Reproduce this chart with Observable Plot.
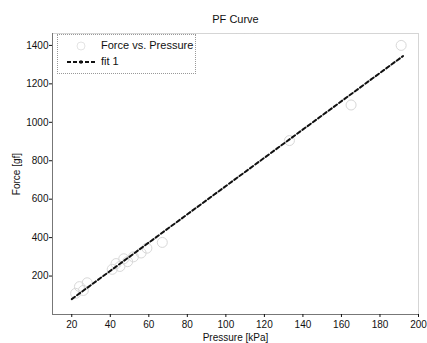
<!DOCTYPE html>
<html>
<head>
<meta charset="utf-8">
<script src="https://cdn.jsdelivr.net/npm/d3@7"></script>
<script src="https://cdn.jsdelivr.net/npm/@observablehq/plot@0.6"></script>
<style>
  html, body { margin: 0; padding: 0; background: #fff; }
  #wrap { position: relative; width: 427px; height: 343px; font-family: "Liberation Sans", Arial, sans-serif; }
  #legend { position: absolute; left: 57px; top: 34px; width: 137px; height: 38px; border: 1px dotted #999; background: #fff; font-size: 11px; color: #111; }
  #legend .row { position: absolute; left: 8px; height: 14px; display: flex; align-items: center; }
  #legend .lbl { position: absolute; left: 43px; }
</style>
</head>
<body>
<div id="wrap"></div>
<script>
// Measured points (Force vs. Pressure)
const pressure = [22, 24, 26, 28, 41, 43, 45, 47, 49, 52, 56, 59, 67, 133, 165, 191];
const force    = [110, 145, 125, 165, 235, 265, 250, 290, 275, 300, 320, 345, 375, 905, 1090, 1400];
// Linear fit ("fit 1") end points
const fitPressure = [20, 192];
const fitForce    = [80, 1345];
const xTicks = [20, 40, 60, 80, 100, 120, 140, 160, 180, 200];
const yTicks = [200, 400, 600, 800, 1000, 1200, 1400];
const titleText = "PF Curve";

const pts = pressure.map((p, i) => ({p, f: force[i]}));
const fit = fitPressure.map((p, i) => ({p, f: fitForce[i]}));

const chart = Plot.plot({
  width: 427,
  height: 343,
  marginLeft: 52,
  marginRight: 9,
  marginTop: 33,
  marginBottom: 29,
  style: {fontFamily: "Liberation Sans, Arial, sans-serif", fontSize: "10px", background: "#fff", color: "#111"},
  x: {domain: [10, 200], ticks: xTicks, label: null},
  y: {domain: [0, 1462], ticks: yTicks, label: null},
  marks: [
    Plot.frame({stroke: "#aaa", strokeDasharray: "1,1"}),
    Plot.ruleX([10], {stroke: "#777"}),
    Plot.ruleY([0], {stroke: "#777"}),
    Plot.axisX({ticks: xTicks, tickFormat: d3.format("d"), tickSize: 3, tickPadding: 3, label: "Pressure [kPa]", labelAnchor: "center", labelArrow: "none", labelOffset: 26, fontSize: 10}),
    Plot.axisY({ticks: yTicks, tickFormat: d3.format("d"), tickSize: 3, tickPadding: 1, label: "Force [gf]", labelAnchor: "center", labelArrow: "none", labelOffset: 40, fontSize: 10}),
    Plot.dot(pts, {x: "p", y: "f", r: 5, stroke: "#d8d8d8", strokeWidth: 1}),
    Plot.line(fit, {x: "p", y: "f", stroke: "#111", strokeWidth: 2, strokeDasharray: "4,2.5"}),
    Plot.text([titleText], {frameAnchor: "top", dy: -18, fontSize: 11, fill: "#111"})
  ]
});
const wrap = document.getElementById("wrap");
wrap.appendChild(chart);

const legend = document.createElement("div");
legend.id = "legend";
legend.innerHTML = `
  <div class="row" style="top:4px;"><svg width="30" height="12"><circle cx="15" cy="6" r="4" fill="none" stroke="#e4e4e4"/></svg></div>
  <div class="lbl" style="top:4px;">Force vs. Pressure</div>
  <div class="row" style="top:20px;"><svg width="30" height="12"><line x1="1" y1="6" x2="29" y2="6" stroke="#111" stroke-width="2" stroke-dasharray="4,2"/><circle cx="15" cy="6" r="1.8" fill="#111"/></svg></div>
  <div class="lbl" style="top:20px;">fit 1</div>`;
wrap.appendChild(legend);
</script>
</body>
</html>
